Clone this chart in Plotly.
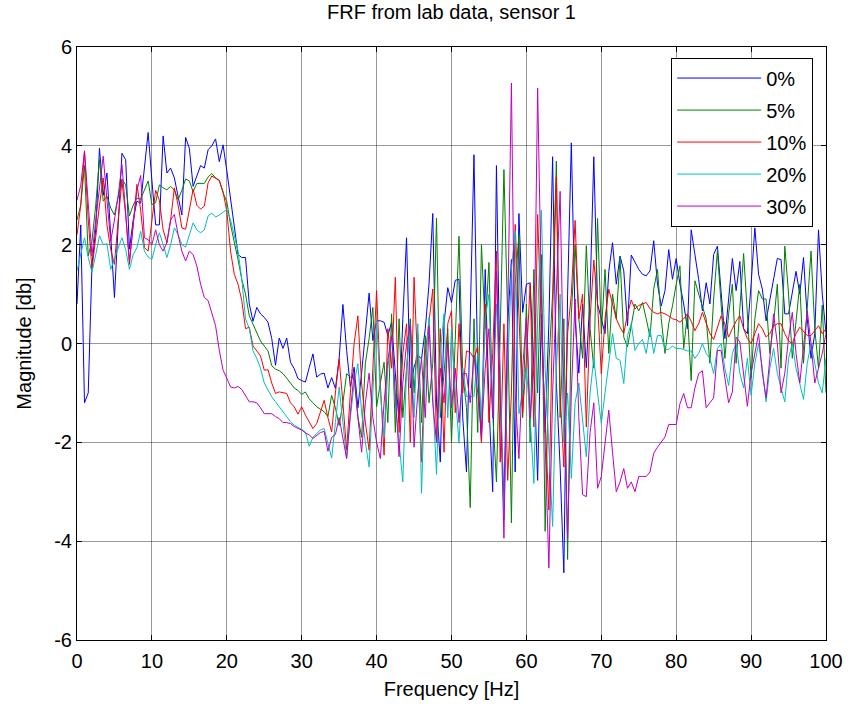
import numpy as np
import plotly.graph_objects as go

# frequency grid of the measurement (0.5 Hz resolution)
freq = np.arange(0, 100.5, 0.5)

# magnitude [db], one value every 0.5 Hz
mag_0 = [
    0.8, 2.4, -1.2, -1.0, 1.6, 2.3, 3.95, 3.0, 3.45, 2.2,
    0.93, 2.4, 3.85, 3.72, 1.91, 2.5, 2.88, 2.84, 3.5, 4.27,
    3.3, 2.4, 2.4, 4.2, 3.45, 3.55, 3.35, 3.0, 2.6, 4.17,
    3.95, 3.18, 3.4, 3.6, 3.55, 3.92, 4.0, 4.14, 3.68, 4.02,
    3.5, 2.9, 2.3, 1.8, 1.74, 1.74, 0.8, 0.45, 0.73, 0.6,
    0.53, 0.43, 0.1, -0.44, 0.11, -0.1, 0.11, -0.38, -0.51, -0.71,
    -0.75, -0.78, -0.49, -0.21, -0.68, -0.62, -0.6, -0.9, -0.69, -0.91,
    -0.31, 0.79, -0.14, -0.88, -0.48, -1.3, -0.6, 0.3, 1.02, 0.06,
    0.46, 0.46, 0.43, 0.16, 0.43, -0.6, -1.6, 0.5, 2.14, -0.9,
    -0.48, -0.24, -0.31, 0.3, 1.2, 2.63, -1.2, -2.4, 0.4, 1.13,
    0.83, 1.28, 1.3, -1.5, -2.6, 0.5, 3.82, -0.6, -2.0, 1.5,
    -1.2, -3.0, 3.6, -1.0, -3.2, 0.4, 1.7, -2.6, 2.63, 0.63,
    1.2, 1.23, -0.5, -2.77, 0.6, -1.8, 0.4, 3.78, -0.8, -2.5,
    -4.64, 1.0, 4.06, 0.5, -0.6, 0.8, -0.49, 1.0, 3.78, 0.8,
    0.5, 0.2, 1.46, 2.04, 1.2, 1.77, 1.47, 0.36, 1.79, 1.64,
    1.5, 1.4, 1.37, 1.47, 2.08, 1.2, 0.76, 1.07, 1.9, 1.3,
    1.72, 1.2, 0.8, 0.3, 2.3, 1.8, 1.3, 0.66, 1.23, 0.8,
    1.8, 1.97, 1.0, 0.1, 0.9, 1.72, 1.07, 1.66, 0.3, 0.2,
    1.2, 2.34, 1.4, 1.1, 0.46, 0.9, 1.3, 1.72, 1.7, 0.6,
    0.6, 1.0, 1.46, 1.0, 1.74, 0.5, -0.3, 0.2, 2.3, 1.0,
    0.2,
]

mag_5 = [
    2.5, 2.8, 3.6, 1.77, 2.07, 2.8, 3.72, 2.88, 2.98, 2.74,
    2.6, 3.0, 3.33, 3.21, 2.58, 2.8, 2.94, 2.92, 3.1, 3.29,
    2.81, 2.85, 3.21, 3.15, 3.11, 3.18, 3.1, 2.91, 3.1, 3.33,
    3.29, 3.07, 3.24, 3.24, 3.24, 3.37, 3.44, 3.35, 3.3, 3.05,
    2.87, 2.4, 2.07, 1.7, 1.3, 1.0, 0.56, 0.38, 0.2, 0.05,
    -0.05, -0.15, -0.45, -0.52, -0.55, -0.61, -0.7, -0.81, -0.9, -0.95,
    -1.03, -0.98, -1.12, -1.2, -1.28, -1.33, -1.38, -1.48, -1.05, -1.3,
    -1.66, -1.2, -0.61, -0.68, -0.7, -1.48, -1.9, -0.4, 0.1, 0.73,
    -1.28, -0.8, -0.38, -1.6, 0.6, -1.8, 0.5, -1.5, -0.4, 0.5,
    -1.0, 0.2, -1.6, 0.16, -1.2, -0.4, 2.54, -1.5, -0.6, 0.3,
    -2.0, 0.3, 2.17, -0.6, -1.3, -3.32, 0.5, -1.8, 2.0, 0.3,
    1.64, -1.4, -2.8, 0.2, 3.52, 0.5, -3.63, 1.2, 2.2, -1.5,
    0.8, -2.0, 1.5, -1.0, 1.8, -3.8, -0.41, 1.0, 3.69, -1.5,
    0.5, -4.37, 0.6, 2.0, 0.5, -0.3, 1.98, 0.3, -0.5, 2.53,
    0.2, 1.5, -0.2, 1.0, 0.5, 1.74, 0.13, -0.07, 0.4, 0.8,
    0.66, 0.83, 0.5, 0.13, 1.1, 1.5, 0.5, -0.2, 0.4, 0.76,
    1.2, 1.57, -0.1, 0.6, -0.75, 1.27, 1.0, 0.76, 0.5, -0.4,
    0.9, 1.87, 0.8, -0.3, 0.6, 1.2, -0.4, 0.8, 1.82, 0.6,
    -0.7, 0.5, 1.07, 0.9, 0.9, -0.2, 0.4, 1.2, -0.5, 1.97,
    1.0, -0.3, 0.5, 1.2, -0.4, 0.8, 1.87, 0.3, -0.5, 0.78,
    -1.0,
]

mag_10 = [
    2.2, 2.8, 3.89, 2.5, 1.5, 2.2, 2.8, 3.35, 2.4, 1.9,
    1.6, 2.5, 3.29, 2.6, 1.6, 2.4, 3.22, 2.7, 1.94, 1.87,
    2.5, 3.1, 2.9, 2.3, 2.04, 2.5, 3.15, 2.8, 2.34, 2.31,
    2.7, 3.12, 2.8, 2.72, 2.78, 3.25, 3.39, 3.35, 3.3, 3.07,
    2.68, 1.87, 1.4, 1.2, 0.87, 0.3, 0.33, -0.05, -0.15, -0.25,
    -0.54, -0.53, -0.8, -1.01, -0.98, -1.0, -1.01, -1.2, -1.28, -1.43,
    -1.28, -1.45, -1.6, -1.72, -1.62, -1.4, -1.15, -1.5, -1.79, -1.0,
    -0.31, -1.2, -2.16, -1.0, 0.0, 0.56, -0.8, -1.6, -2.16, -0.5,
    1.07, -0.8, -2.26, 0.3, -0.5, 1.34, -1.8, -0.2, 0.4, -2.0,
    1.34, -0.5, -2.4, -0.2, 0.4, 1.1, -2.0, 0.3, -2.2, 0.4,
    0.66, -1.4, 0.4, -1.0, -0.15, -0.18, -0.3, -0.06, -2.0, 0.8,
    -1.6, -0.2, 1.87, -2.4, 0.4, -2.77, -1.0, 2.41, 0.6, -1.4,
    -0.31, 1.2, -1.69, 2.61, 0.3, -1.4, -3.37, 0.6, 3.37, -1.0,
    -2.5, 0.2, 1.0, 2.49, 0.5, 1.0, -1.69, 0.5, 1.69, 0.8,
    -0.61, 0.5, 1.1, 0.8, 0.5, 0.33, 0.2, 0.6, 0.88, 0.7,
    0.77, 0.8, 0.83, 0.7, 0.63, 0.6, 0.63, 0.6, 0.56, 0.5,
    0.48, 0.43, 0.5, 0.6, 0.45, 0.26, 0.4, 0.63, 0.4, 0.2,
    0.08, 0.3, 0.56, 0.4, 0.13, 0.3, 0.45, 0.56, 0.3, 0.1,
    0.0, 0.2, 0.4, 0.3, 0.13, 0.2, 0.35, 0.4, 0.4, 0.2,
    0.05, 0.0, 0.2, 0.33, 0.25, 0.16, 0.16, 0.25, 0.36, 0.2,
    0.3,
]

mag_20 = [
    1.47, 1.8, 2.14, 1.74, 1.44, 1.8, 2.18, 2.0, 2.02, 1.5,
    1.7, 1.94, 2.14, 1.9, 1.5, 1.8, 1.94, 2.27, 1.87, 1.75,
    1.7, 2.0, 2.24, 2.0, 1.74, 2.0, 2.34, 2.2, 2.0, 1.95,
    2.2, 2.44, 2.3, 2.24, 2.3, 2.58, 2.64, 2.56, 2.6, 2.66,
    2.71, 2.5, 2.2, 1.87, 1.3, 0.5, 0.3, -0.15, -0.3, -0.5,
    -0.8, -0.95, -1.08, -1.18, -1.28, -1.38, -1.49, -1.58, -1.65, -1.7,
    -1.75, -1.79, -2.08, -1.9, -1.82, -1.75, -1.72, -2.0, -2.32, -1.6,
    -0.88, -1.6, -2.32, -1.5, -0.8, -0.41, -1.4, -2.0, -2.5, -1.0,
    0.5, -1.0, -1.9, -0.5, 0.2, -1.2, -2.0, -2.8, -0.5, 0.3,
    -1.5, 0.4, -3.03, -0.5, 0.53, -1.0, -2.65, -0.2, 0.6, -1.5,
    0.3, -1.0, -2.02, -0.5, -1.07, -1.07, -1.07, -0.2, -1.55, 0.5,
    1.0, -1.5, 0.8, -0.5, -3.57, -0.5, 1.5, 2.28, -1.42, -0.98,
    -0.5, -1.5, -2.83, 0.5, 2.7, -0.5, -2.0, -3.7, -0.5, 1.0,
    -2.0, -1.0, -2.73, -1.2, -0.8, -1.5, -2.29, -1.0, -0.3, -1.0,
    -1.62, -1.0, -0.4, 0.2, -0.3, -0.34, -0.81, 0.16, 0.4, -0.14,
    0.0, 0.08, -0.2, 0.3, -0.2, 0.16, 0.16, -0.12, -0.12, -0.05,
    -0.1, -0.1, -0.12, -0.15, -0.15, -0.3, -0.2, 0.0, -0.2, -0.3,
    -0.61, -0.1, 0.0, -0.5, -0.85, -0.2, 0.0, -0.6, -0.9, -0.3,
    -1.05, -0.4, 0.0, -0.5, -1.18, -0.5, -0.1, -0.6, -0.9, -1.18,
    -0.3, 0.0, -0.5, -0.8, -1.13, -0.4, 0.0, -0.4, -0.8, -1.0,
    -0.3,
]

mag_30 = [
    2.9, 3.2, 3.9, 2.8, 1.77, 2.5, 3.2, 3.79, 2.9, 2.07,
    2.5, 3.0, 3.62, 2.6, 1.67, 2.4, 3.1, 3.4, 2.14, 2.1,
    2.0, 2.3, 2.0, 1.87, 2.04, 2.5, 2.61, 2.2, 1.87, 1.67,
    1.87, 1.8, 1.57, 1.2, 0.93, 0.87, 0.6, 0.36, -0.14, -0.54,
    -0.7, -0.88, -0.9, -0.87, -0.93, -1.05, -1.18, -1.18, -1.2, -1.3,
    -1.42, -1.42, -1.42, -1.48, -1.52, -1.6, -1.6, -1.62, -1.68, -1.72,
    -1.75, -1.81, -1.85, -1.92, -1.85, -1.8, -1.78, -2.18, -1.9, -1.84,
    -1.5, -1.9, -2.33, -1.4, -0.58, -1.5, -2.2, -1.2, -0.6, -1.5,
    -2.0, -2.33, -1.2, -0.34, 0.16, -1.0, -2.29, -0.8, 0.0, 0.36,
    -2.1, -1.0, -0.3, -1.5, 0.36, -1.2, -2.0, -0.5, -1.2, 0.02,
    -1.3, -0.5, -1.6, -0.61, -0.61, -1.2, -0.24, -1.0, -1.85, -0.5,
    0.3, -1.5, 1.47, -1.0, -3.94, 0.5, 5.27, -1.0, -2.33, -0.5,
    0.53, -1.5, -0.5, 5.17, 1.0, -2.0, -4.54, -1.0, 1.0, 3.08,
    -1.0, -3.94, -1.0, 0.9, -1.5, -3.06, -3.1, -1.8, -1.2, -2.93,
    -2.69, -2.0, -1.35, -2.2, -3.0, -2.8, -2.53, -2.93, -2.8, -3.0,
    -2.69, -2.69, -2.69, -2.6, -2.22, -2.1, -2.0, -1.89, -1.64, -1.64,
    -1.64, -1.22, -1.01, -1.3, -1.3, -0.9, -0.61, -0.55, -1.3, -1.2,
    -1.1, -0.14, -0.14, -0.7, -1.2, -0.98, 0.13, 0.03, -0.6, -1.27,
    -0.6, -0.2, 0.2, -0.6, -1.1, -0.3, 0.6, 0.0, -1.0, -0.6,
    0.1, 0.63, -0.2, -0.8, 0.0, 0.66, 0.0, -0.8, -0.5, -0.2,
    0.2,
]

labels = ["0%", "5%", "10%", "20%", "30%"]
colors = ["#0000ff", "#008000", "#ff0000", "#00bfbf", "#bf00bf"]
series = [mag_0, mag_5, mag_10, mag_20, mag_30]

# y tick labels with a plain hyphen, as in the original
y_ticks = [-6, -4, -2, 0, 2, 4, 6]
y_ticktext = ["-6", "-4", "-2", "0", "2", "4", "6"]

fig = go.Figure()
for name, vals, col in zip(labels, series, colors):
    assert len(vals) == len(freq), name
    fig.add_trace(go.Scatter(
        x=freq, y=vals, mode="lines", name=name, legendgroup=name,
        line=dict(color=col, width=1)
    ))

axis_style = dict(
    showgrid=True, gridcolor="rgba(0,0,0,0.4)", gridwidth=1,
    showline=True, linecolor="black", linewidth=1, mirror="ticks",
    ticks="inside", ticklen=5, tickcolor="black", zeroline=False,
    tickfont=dict(size=20), automargin=False
)

fig.update_layout(
    width=851, height=704,
    margin=dict(l=77, r=25, t=47, b=64),
    paper_bgcolor="white", plot_bgcolor="white",
    font=dict(family="Liberation Sans, Arial", color="black"),
    title=dict(text="FRF from lab data, sensor 1", x=0.5, xref="paper",
               y=0.983, yref="container", yanchor="middle",
               font=dict(size=20)),
    xaxis=dict(range=[0, 100], dtick=10, ticklabelstandoff=3,
               title=dict(text="Frequency [Hz]", font=dict(size=20), standoff=10),
               **axis_style),
    yaxis=dict(range=[-6, 6], tickvals=y_ticks, ticktext=y_ticktext,
               title=dict(text="Magnitude [db]", font=dict(size=20), standoff=17),
               **axis_style),
    legend=dict(x=0.7933, y=0.9822, xanchor="left", yanchor="top",
                bgcolor="white", bordercolor="black", borderwidth=1,
                font=dict(size=20), itemwidth=84,
                traceorder="grouped", tracegroupgap=3),
    showlegend=True
)

# drop the default page margin so the figure sits at the window origin
fig.write_html("out.html", config={"displayModeBar": False},
               post_script="document.body.style.margin='0px';")
